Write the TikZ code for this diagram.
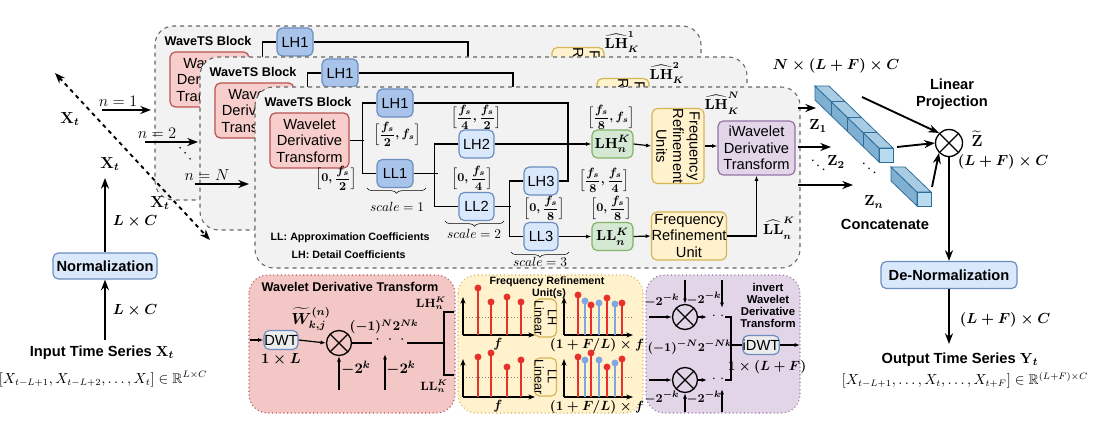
\documentclass[tikz,border=0pt]{standalone}
\usepackage{amsmath,amssymb,bm}
\usepackage[no-math]{fontspec}
\setmainfont{Liberation Sans}
\usetikzlibrary{arrows.meta,decorations.pathreplacing,calc}
\definecolor{rf}{HTML}{F8CECC}\definecolor{rs}{HTML}{B85450}
\definecolor{bf}{HTML}{A9C4EB}\definecolor{bs}{HTML}{6C8EBF}
\definecolor{lbf}{HTML}{DAE8FC}
\definecolor{gf}{HTML}{D5E8D4}\definecolor{gs}{HTML}{82B366}
\definecolor{yf}{HTML}{FFF2CC}\definecolor{ys}{HTML}{D6B656}
\definecolor{pf}{HTML}{E1D5E7}\definecolor{ps}{HTML}{9673A6}
\definecolor{blk}{HTML}{F2F2F2}
\definecolor{rpan}{HTML}{F2C7C5}
\definecolor{stemr}{HTML}{E8302A}\definecolor{stemb}{HTML}{7EA6E0}
\definecolor{cubet}{HTML}{A7CCE4}\definecolor{cubes}{HTML}{7FB0D2}\definecolor{cubef}{HTML}{B8DBF0}\definecolor{cubel}{HTML}{2E6D99}
\newcommand\wtsblock[1]{%
 \node[ttl] (title) at (308,102) {WaveTS Block};
 \node[box,fill=rf,draw=rs,w=79,h=55] (wdt) at (309.5,140.5) {Wavelet\\Derivative\\Transform};
 \node[box,fill=bf,draw=bs,w=36,h=28] (lh1) at (395,103) {LH1};
 \node[box,fill=bf,draw=bs,w=36,h=28] (ll1) at (395,173.5) {LL1};
 \node[box,fill=lbf,draw=bs,w=35,h=28] (lh2) at (476.5,144) {LH2};
 \node[box,fill=lbf,draw=bs,w=35,h=28] (ll2) at (476.5,206.5) {LL2};
 \node[box,fill=lbf,draw=bs,w=34,h=28] (lh3) at (541,181) {LH3};
 \node[box,fill=lbf,draw=bs,w=34,h=28] (ll3) at (541,236.5) {LL3};
 \node[box,fill=gf,draw=gs,w=41,h=28,font=\boldmath\fontsize{11}{12}\selectfont] (lhk) at (612.5,144) {$\mathbf{LH}_n^{K}$};
 \node[box,fill=gf,draw=gs,w=41,h=28,font=\boldmath\fontsize{11}{12}\selectfont] (llk) at (612.5,236.5) {$\mathbf{LL}_n^{K}$};
 \node[box,fill=yf,draw=ys,w=74,h=52,rotate=-90] (fru) at (678,146) {Frequency\\Refinement\\Units};
 \node[box,fill=pf,draw=ps,w=77,h=54] (iwdt) at (756.5,148) {iWavelet\\Derivative\\Transform};
 \node[box,fill=yf,draw=ys,w=74,h=48] (frub) at (689,236) {Frequency\\Refinement\\Unit};
 \draw[ln] (wdt.east) -- ++(14,0);
 \draw[ln] (lh1.west) -- ++(-14,0) |- (ll1.west);
 \draw[ln] (lh1.east) -| (568,181) -- (lh3.east);
 \draw[ln] (ll1.east) -- ++(24,0);
 \draw[ln] (lh2.west) -- ++(-24,0) |- (ll2.west);
 \draw[ln] (ll2.east) -- ++(16,0);
 \draw[ln] (lh3.west) -- ++(-14,0) |- (ll3.west);
 \draw[ar] (lh2.east) -- (lhk.west);
 \draw[ar] (ll3.east) -- (llk.west);
 \draw[ar] (lhk.east) -- (fru.south);
 \draw[ar] (fru.north) -- (fru.north -| iwdt.west);
 \draw[ar] (llk.east) -- (frub.west);
 \draw[ar] (frub.east) -| (iwdt.south);
 \node[mth] (hlh) at (722,103) {$\widehat{\mathbf{LH}}_K^{#1}$};
}
\begin{document}
\begin{tikzpicture}[x=0.75pt,y=-0.75pt,
 w/.style={minimum width=#1*0.75pt},h/.style={minimum height=#1*0.75pt},
 box/.style={rounded corners=4pt,line width=0.9pt,align=center,inner sep=0pt,font=\fontsize{11}{12.5}\selectfont},
 ttl/.style={font=\bfseries\fontsize{9.5}{10}\selectfont},
 mth/.style={font=\boldmath\fontsize{10.5}{12}\selectfont,inner sep=0pt},
 rng/.style={font=\boldmath\fontsize{9}{10}\selectfont,inner sep=0pt},
 ln/.style={line width=0.9pt},
 ar/.style={line width=0.9pt,-{Latex[length=4pt]}},
 big/.style={line width=1.4pt,-{Stealth[length=8pt,width=6pt]}},
 blkst/.style={draw=gray!80!black,dashed,fill=blk,rounded corners=14pt,line width=0.8pt},
 otimes/.style={circle,draw,line width=1pt,minimum size=#1*0.75pt,inner sep=0pt,
   path picture={\draw[line width=1pt] (path picture bounding box.center) +(45:#1*0.375pt) -- +(225:#1*0.375pt) (path picture bounding box.center) +(135:#1*0.375pt) -- +(-45:#1*0.375pt);}},
 dwt/.style={box,fill=gray!15,draw=bs,w=34,h=19}
]
\useasboundingbox (0,0) rectangle (1100,424);
% ---- blocks
\draw[blkst] (155,26) rectangle (701,200);
\begin{scope}[shift={(-100,-61)},name prefix=a-] \wtsblock{1} \end{scope}
\draw[blkst] (200,57) rectangle (747,230);
\begin{scope}[shift={(-55,-30)},name prefix=b-] \wtsblock{2} \end{scope}
\draw[blkst] (255,87) rectangle (800,268);
\begin{scope}[name prefix=c-] \wtsblock{N} \end{scope}
\node[rng] (r1) at (397,134) {$\Bigl[\dfrac{f_s}{2},f_s\Bigr]$};
\node[rng] (r2) at (336,178) {$\Bigl[0,\dfrac{f_s}{2}\Bigr]$};
\node[rng] (r3) at (476,117) {$\Bigl[\dfrac{f_s}{4},\dfrac{f_s}{2}\Bigr]$};
\node[rng] (r4) at (472,178) {$\Bigl[0,\dfrac{f_s}{4}\Bigr]$};
\node[rng] (r5) at (611,117) {$\Bigl[\dfrac{f_s}{8},f_s\Bigr]$};
\node[rng] (r6) at (604,180) {$\Bigl[\dfrac{f_s}{8},\dfrac{f_s}{4}\Bigr]$};
\node[rng] (r7) at (544,208) {$\Bigl[0,\dfrac{f_s}{8}\Bigr]$};
\node[rng] (r8) at (611,208) {$\Bigl[0,\dfrac{f_s}{8}\Bigr]$};
\node[mth] (hll) at (779,228) {$\widehat{\mathbf{LL}}_n^{K}$};
\draw[decorate,decoration={brace,mirror,amplitude=4pt}] (367,188) -- (426,188);
\node[mth,font=\fontsize{10}{11}\selectfont] (s1) at (397,207) {$scale=1$};
\draw[decorate,decoration={brace,mirror,amplitude=4pt}] (445,221) -- (504,221);
\node[mth,font=\fontsize{10}{11}\selectfont] (s2) at (474,234) {$scale=2$};
\draw[decorate,decoration={brace,mirror,amplitude=4pt}] (511,252) -- (569,252);
\node[mth,font=\fontsize{10}{11}\selectfont] (s3) at (540,262) {$scale=3$};
\node[ttl,anchor=west,font=\bfseries\fontsize{8}{9}\selectfont] (lg1) at (266,238) {LL: Approximation Coefficients};
\node[ttl,anchor=west,font=\bfseries\fontsize{8}{9}\selectfont] (lg2) at (287,255) {LH: Detail Coefficients};
% ---- left input side
\coordinate (d1) at (55,73); \coordinate (d2) at (210,240);
\draw[line width=1.4pt,dashed,{Stealth[length=8pt,width=6pt]}-{Stealth[length=8pt,width=6pt]}] (d1) -- (d2);
\node[mth,font=\boldmath\fontsize{12}{13}\selectfont] (x1) at (70,119) {$\mathbf{X}_t$};
\node[mth,font=\boldmath\fontsize{12}{13}\selectfont] (x2) at (110,164) {$\mathbf{X}_t$};
\node[mth,font=\boldmath\fontsize{12}{13}\selectfont] (x3) at (160,203) {$\mathbf{X}_t$};
\coordinate (n1a) at (102,110); \coordinate (n1b) at (151,110);
\draw[big] (n1a) -- (n1b); \node[mth,font=\fontsize{12}{13}\selectfont] (n1) at (118,101) {$n=1$};
\coordinate (n2a) at (145,142); \coordinate (n2b) at (198,142);
\draw[big] (n2a) -- (n2b); \node[mth,font=\fontsize{12}{13}\selectfont] (n2) at (157,133) {$n=2$};
\node[mth,font=\fontsize{12}{13}\selectfont,rotate=-45] (nd) at (186,155) {$\cdots$};
\coordinate (n3a) at (195,184); \coordinate (n3b) at (249,184);
\draw[big] (n3a) -- (n3b); \node[mth,font=\fontsize{12}{13}\selectfont] (n3) at (207,175) {$n=N$};
\node[box,fill=lbf,draw=bs,w=104,h=26,font=\bfseries\fontsize{11}{12}\selectfont] (norm) at (105,266) {Normalization};
\coordinate (nt) at (105,178);
\draw[big] (norm.north) -- (nt);
\node[mth,font=\boldmath\fontsize{11}{12}\selectfont] (lc1) at (135,221) {$L\times C$};
\node[align=center,font=\bfseries\fontsize{11}{12}\selectfont] (inp) at (102,353) {Input Time Series $\boldsymbol{\mathbf{X}_t}$};
\draw[big] (105,340) -- (norm.south);
\node[mth,font=\boldmath\fontsize{11}{12}\selectfont] (lc2) at (135,310) {$L\times C$};
\node[font=\fontsize{10.5}{12}\selectfont] (inpr) at (103,379) {$[X_{t-L+1},X_{t-L+2},\ldots,X_t]\in\mathbb{R}^{L\times C}$};
% ---- right side
\coordinate (z1a) at (798,108); \coordinate (z1b) at (816,108);
\coordinate (z2a) at (798,147); \coordinate (z2b) at (831,147);
\coordinate (z3a) at (798,185); \coordinate (z3b) at (853,185);
\draw[big] (z1a) -- (z1b); \draw[big] (z2a) -- (z2b); \draw[big] (z3a) -- (z3b);
\newcommand\cubebar[6]{% Bx By Fx Fy s n
 \fill[cubes,draw=cubel,line width=0.6pt] (#1,#2) -- (#3,#4) -- (#3,#4+#5) -- (#1,#2+#5) -- cycle;
 \fill[cubet,draw=cubel,line width=0.6pt] (#1,#2) -- (#1+#5,#2) -- (#3+#5,#4) -- (#3,#4) -- cycle;
 \fill[cubef,draw=cubel,line width=0.6pt] (#3,#4) rectangle (#3+#5,#4+#5);
 \ifnum#6>1 \foreach \i in {1,...,\numexpr#6-1\relax}{
   \draw[cubel,line width=0.6pt] ($(#1,#2)!\i/#6!(#3,#4)$) -- ++(#5,0);
   \draw[cubel,line width=0.6pt] ($(#1,#2)!\i/#6!(#3,#4)$) -- ++(0,#5);}\fi}
\cubebar{815}{86}{879}{148}{14}{4}
\cubebar{891}{167}{917}{192}{14}{1}
\node[mth,font=\boldmath\fontsize{11}{12}\selectfont] (zz1) at (818,126) {$\mathbf{Z}_1$};
\node[mth,font=\boldmath\fontsize{11}{12}\selectfont] (zz2) at (836,162) {$\mathbf{Z}_2$};
\node[mth,font=\boldmath\fontsize{11}{12}\selectfont] (zz3) at (874,202) {$\mathbf{Z}_n$};
\node[mth,font=\fontsize{12}{13}\selectfont,rotate=-40] (dl) at (819,167) {$\cdots$};
\node[mth,font=\fontsize{12}{13}\selectfont,rotate=-40] (dr) at (870,170) {$\cdots$};
\node[font=\bfseries\fontsize{11}{12}\selectfont] (cc) at (885,224) {Concatenate};
\node[mth,font=\boldmath\fontsize{11}{12}\selectfont] (nlf) at (836,66) {$N\times(L+F)\times C$};
\node[align=center,font=\bfseries\fontsize{11}{13}\selectfont] (lp) at (952,94) {Linear\\Projection};
\node[otimes=27] (ot) at (949,143) {};
\coordinate (lpa) at (862,97);
\draw[big] (lpa) -- (ot.north west);
\coordinate (cba) at (897,147);
\draw[big] (cba) -- (ot.west);
\coordinate (cbb) at (932,187);
\draw[big] (cbb) -- (ot.south west);
\node[mth,font=\boldmath\fontsize{12}{13}\selectfont] (zt) at (977,139) {$\widetilde{\mathbf{Z}}$};
\node[mth,font=\boldmath\fontsize{11}{12}\selectfont] (lfc) at (1003,162) {$(L+F)\times C$};
\node[box,fill=lbf,draw=bs,w=136,h=27,font=\bfseries\fontsize{11}{12}\selectfont] (dn) at (949,275) {De-Normalization};
\draw[big] (ot.south) -- (dn.north);
\coordinate (outa) at (949,344);
\draw[big] (dn.south) -- (outa);
\node[mth,font=\boldmath\fontsize{11}{12}\selectfont] (lfc2) at (1005,320) {$(L+F)\times C$};
\node[font=\bfseries\fontsize{11}{12}\selectfont] (outp) at (960,360) {Output Time Series $\boldsymbol{\mathbf{Y}_t}$};
\node[font=\fontsize{10.5}{12}\selectfont] (outr) at (965,380) {$[X_{t-L+1},\ldots,X_t,\ldots,X_{t+F}]\in\mathbb{R}^{(L+F)\times C}$};
% ---- bottom red panel
\draw[rs,dotted,fill=rpan,rounded corners=14pt,line width=0.8pt] (249,275) rectangle (455,413);
\node[ttl] (rt) at (350,287) {Wavelet Derivative Transform};
\node[dwt] (dw) at (281,340) {DWT};
\coordinate (dwin) at (250,340);
\draw[ar] (dwin) -- (dw.west);
\node[mth,font=\boldmath\fontsize{11}{12}\selectfont] (one) at (281,359) {$1\times L$};
\node[mth,font=\boldmath\fontsize{12}{13}\selectfont] (wt) at (311,319) {$\widetilde{W}^{(n)}_{k,j}$};
\node[otimes=25] (ro) at (339,343) {};
\draw[ar] (dw.east) -- (ro.west);
\coordinate (rin) at (339,390); \draw[ar] (rin) -- (ro.south);
\node[mth,font=\boldmath\fontsize{11}{12}\selectfont] (r2k) at (356,368) {$-2^k$};
\coordinate (rdot) at (372,343);
\draw[ln] (ro.east) -- (rdot);
\node[mth,font=\fontsize{12}{12}\selectfont] (rdd) at (390,340) {$\cdot\;\cdot\;\cdot$};
\coordinate (ra1) at (385,390); \coordinate (ra2) at (385,354); \draw[ar] (ra1) -- (ra2);
\node[mth,font=\boldmath\fontsize{11}{12}\selectfont] (r2k2) at (401,368) {$-2^k$};
\node[mth,font=\boldmath\fontsize{10}{11}\selectfont] (rn) at (384,327) {$(-1)^{N}2^{Nk}$};
\coordinate (rb) at (444,343);
\draw[ln] (407,343) -- (rb);
\draw[ln] (454,312) -- (444,312) -- (444,375) -- (454,375);
\node[mth,font=\boldmath\fontsize{9}{10}\selectfont] (rlh) at (431,303) {$\mathbf{LH}_n^K$};
\node[mth,font=\boldmath\fontsize{9}{10}\selectfont] (rll) at (434,386) {$\mathbf{LL}_n^K$};
% ---- bottom yellow panel
\draw[ys,dotted,fill=yf,rounded corners=14pt,line width=0.8pt] (458,275) rectangle (643,413);
\node[ttl,font=\bfseries\fontsize{8}{9}\selectfont] (yt) at (547,282) {Frequency Refinement};
\node[ttl,font=\bfseries\fontsize{8}{9}\selectfont] (yt2) at (549,294) {Unit(s)};
\foreach \oy/\d/\ta/\tb/\tc/\td in {335/317/288/302/297/302, 397/377/357/353/367/360}{
  \draw[line width=0.9pt,-{Stealth[length=5pt]}] (463,\oy) -- (463,\oy-38);
  \draw[line width=0.9pt,-{Stealth[length=5pt]}] (463,\oy) -- (535,\oy);
  \draw[gray,dotted] (466,\d) -- (532,\d);
  \foreach \x/\t in {478/\ta,491/\tb,507/\tc,521/\td}{
    \draw[stemr,line width=1pt] (\x,\oy) -- (\x,\t); \fill[stemr] (\x,\t) circle (2.6pt);}
  \draw[line width=0.9pt,-{Stealth[length=5pt]}] (564,\oy) -- (564,\oy-38);
  \draw[line width=0.9pt,-{Stealth[length=5pt]}] (564,\oy) -- (633,\oy);
  \draw[gray,dotted] (567,\d) -- (632,\d);
}
\foreach \x/\t/\c in {578/295/stemr,585/301/stemb,591/305/stemr,599/303/stemb,607/298/stemr,615/304/stemb,622/303/stemr}{
  \draw[\c,line width=1pt] (\x,335) -- (\x,\t); \fill[\c] (\x,\t) circle (2.6pt);}
\foreach \x/\t/\c in {578/357/stemr,585/360/stemb,591/353/stemr,599/360/stemb,607/367/stemr,615/363/stemb,622/359/stemr}{
  \draw[\c,line width=1pt] (\x,397) -- (\x,\t); \fill[\c] (\x,\t) circle (2.6pt);}
\node[mth,font=\boldmath\fontsize{10}{11}\selectfont] (yf1) at (498,344) {$f$};
\node[mth,font=\boldmath\fontsize{10}{11}\selectfont] (yf2) at (498,406) {$f$};
\node[mth,font=\boldmath\fontsize{10}{11}\selectfont] (yf3) at (597,345) {$(1+F/L)\times f$};
\node[mth,font=\boldmath\fontsize{10}{11}\selectfont] (yf4) at (597,407) {$(1+F/L)\times f$};
\node[box,fill=yf,draw=ys,rotate=-90,w=38,h=18,font=\fontsize{9.5}{10}\selectfont] (lhl) at (545.5,318) {LH\\Linear};
\node[box,fill=yf,draw=ys,rotate=-90,w=38,h=18,font=\fontsize{9.5}{10}\selectfont] (lll) at (545.5,377) {LL\\Linear};
% ---- bottom purple panel
\draw[ps,dotted,fill=pf,rounded corners=14pt,line width=0.8pt] (646,275) rectangle (800,413);
\node[otimes=25] (po1) at (685,317) {};
\node[otimes=25] (po2) at (685,380) {};
\coordinate (p1l) at (649,317); \draw[ar] (p1l) -- (po1.west);
\coordinate (p2l) at (649,380); \draw[ar] (p2l) -- (po2.west);
\coordinate (p1t) at (685,280); \draw[ar] (p1t) -- (po1.north);
\coordinate (p2b) at (685,412); \draw[ar] (p2b) -- (po2.south);
\coordinate (p1ta) at (722,280); \coordinate (p1tb) at (722,308); \draw[ar] (p1ta) -- (p1tb);
\coordinate (p2ba) at (722,412); \coordinate (p2bb) at (722,389); \draw[ar] (p2ba) -- (p2bb);
\coordinate (p1r) at (707,317); \draw[ar] (po1.east) -- (p1r);
\coordinate (p2r) at (707,380); \draw[ar] (po2.east) -- (p2r);
\node[mth,font=\fontsize{11}{12}\selectfont] (pd1) at (718,316) {$\cdot\;\cdot$};
\node[mth,font=\fontsize{11}{12}\selectfont] (pd2) at (718,379) {$\cdot\;\cdot$};
\draw[ln] (725,317) -- (731,317) -- (731,380) -- (725,380);
\node[dwt] (idw) at (761,345) {iDWT};
\draw[ln] (731,345) -- (idw.west);
\coordinate (pout) at (800,345); \draw[ar] (idw.east) -- (pout);
\node[mth,font=\boldmath\fontsize{9.5}{10}\selectfont] (pk1) at (662,301) {$-2^{-k}$};
\node[mth,font=\boldmath\fontsize{9.5}{10}\selectfont] (pk2) at (704,299) {$-2^{-k}$};
\node[mth,font=\boldmath\fontsize{9.5}{10}\selectfont] (pk3) at (662,398) {$-2^{-k}$};
\node[mth,font=\boldmath\fontsize{9.5}{10}\selectfont] (pk4) at (704,398) {$-2^{-k}$};
\node[mth,font=\boldmath\fontsize{9.5}{10}\selectfont] (pn) at (690,347) {$(-1)^{-N}2^{-Nk}$};
\node[mth,font=\boldmath\fontsize{10}{11}\selectfont] (p1lf) at (767,367) {$1\times(L+F)$};
\node[ttl,align=center,font=\bfseries\fontsize{8.5}{9}\selectfont] (pt) at (768,305) {invert\\Wavelet\\Derivative\\Transform};
\end{tikzpicture}
\end{document}
